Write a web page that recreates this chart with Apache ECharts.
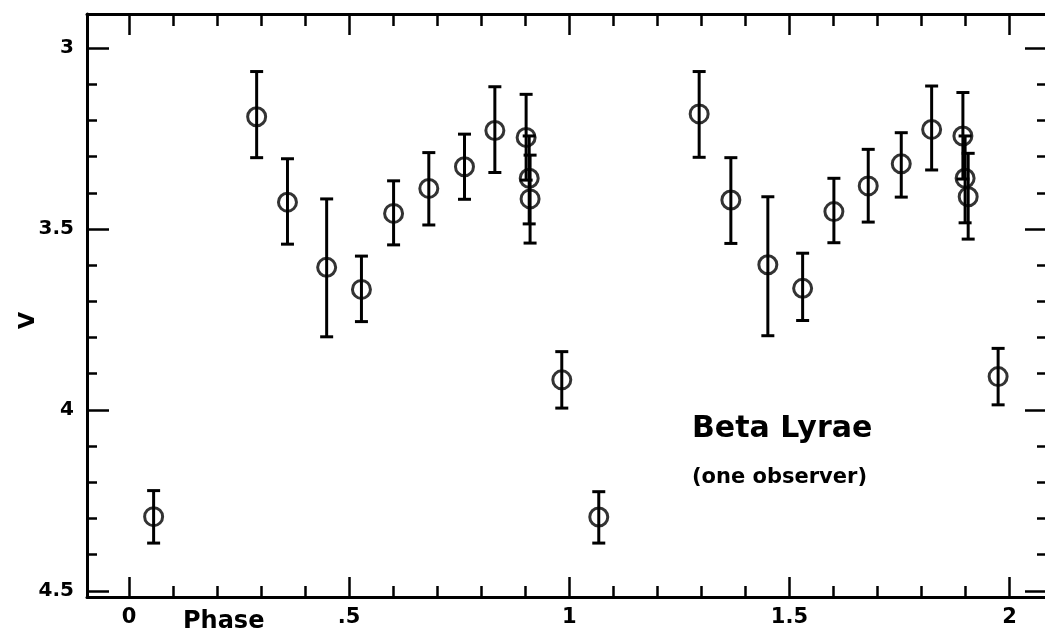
<!DOCTYPE html>
<html>
<head>
<meta charset="utf-8">
<script src="https://cdn.jsdelivr.net/npm/echarts@6/dist/echarts.min.js"></script>
<style>
  html, body { margin: 0; padding: 0; background: #fff; }
  #main { width: 1045px; height: 636px; }
</style>
</head>
<body>
<div id="main"></div>
<script>
// phase, V magnitude, lower and upper end of the error bar
const phase = [0.056, 0.290, 0.360, 0.449, 0.528, 0.601, 0.681, 0.762, 0.831, 0.902, 0.909, 0.911, 0.983,
    1.067, 1.295, 1.367, 1.451, 1.530, 1.601, 1.679, 1.754, 1.823, 1.894, 1.899, 1.906, 1.974]
const mag = [4.295, 3.190, 3.426, 3.606, 3.667, 3.457, 3.388, 3.328, 3.228, 3.247, 3.360, 3.417, 3.917,
    4.296, 3.182, 3.420, 3.599, 3.664, 3.452, 3.381, 3.320, 3.225, 3.243, 3.360, 3.411, 3.908]
const errLow = [4.223, 3.065, 3.306, 3.417, 3.575, 3.367, 3.289, 3.238, 3.107, 3.128, 3.243, 3.296, 3.839,
    4.226, 3.065, 3.303, 3.411, 3.567, 3.360, 3.280, 3.234, 3.105, 3.123, 3.243, 3.291, 3.830]
const errHigh = [4.368, 3.303, 3.542, 3.798, 3.756, 3.544, 3.489, 3.418, 3.344, 3.365, 3.486, 3.539, 3.995,
    4.368, 3.302, 3.540, 3.795, 3.753, 3.538, 3.481, 3.412, 3.337, 3.362, 3.483, 3.528, 3.986]

const xMajor = [0, 0.5, 1, 1.5, 2]
const xMajorLabels = ['0', '.5', '1', '1.5', '2']
const xMinor = [0.1, 0.2, 0.3, 0.4, 0.6, 0.7, 0.8, 0.9, 1.1, 1.2, 1.3, 1.4, 1.6, 1.7, 1.8, 1.9]
const yMajor = [3, 3.5, 4, 4.5]
const yMajorLabels = ['3', '3.5', '4', '4.5']
const yMinor = [3.1, 3.2, 3.3, 3.4, 3.6, 3.7, 3.8, 3.9, 4.1, 4.2, 4.3, 4.4]

const X_MIN = -0.0953, X_MAX = 2.085
const Y_MIN = 2.906, Y_MAX = 4.517

const chartDom = document.getElementById('main')
const myChart = echarts.init(chartDom)

const ink = '#000'
const font = 'DejaVu Sans'

function labelOf(values, labels) {
    return function (v) {
        const i = values.findIndex(m => Math.abs(m - v) < 1e-6)
        return i >= 0 ? labels[i] : ''
    }
}

function xAx(position, ticks, len, withLine, withLabel) {
    return {
        type: 'value', position, min: X_MIN, max: X_MAX,
        axisLine: { show: withLine, onZero: false, lineStyle: { color: ink, width: 3 } },
        axisTick: { show: true, inside: true, length: len, customValues: ticks, lineStyle: { color: ink, width: 2.5 } },
        axisLabel: {
            show: withLabel, customValues: ticks, margin: 10,
            formatter: labelOf(xMajor, xMajorLabels),
            color: ink, fontFamily: font, fontSize: 21, fontWeight: 'bold'
        },
        splitLine: { show: false }
    }
}

function yAx(position, ticks, len, withLine, withLabel) {
    const ax = {
        type: 'value', position, min: Y_MIN, max: Y_MAX, inverse: true,
        axisLine: { show: withLine, onZero: false, lineStyle: { color: ink, width: 3 } },
        axisTick: { show: true, inside: true, length: len, customValues: ticks, lineStyle: { color: ink, width: 2.5 } },
        axisLabel: {
            show: withLabel, customValues: ticks, margin: 13,
            formatter: labelOf(yMajor, yMajorLabels),
            color: ink, fontFamily: font, fontSize: 20, fontWeight: 'bold'
        },
        splitLine: { show: false }
    }
    if (withLabel) {
        ax.name = 'V'
        ax.nameLocation = 'middle'
        ax.nameGap = 48
        ax.nameMoveOverlap = false
        ax.nameRotate = 90
        ax.nameTextStyle = { color: ink, fontFamily: font, fontSize: 22, fontWeight: 'bold', padding: [0, 30, 0, 0] }
    }
    return ax
}

const points = phase.map((p, i) => [p, mag[i]])
const bars = phase.map((p, i) => [p, errLow[i], errHigh[i]])

const option = {
    backgroundColor: '#fff',
    animation: false,
    grid: { left: 87, top: 14, width: 960, height: 583, containLabel: false, outerBoundsMode: 'none' },
    xAxis: [
        xAx('bottom', xMajor, 20, true, true),
        xAx('bottom', xMinor, 11, false, false),
        xAx('top', xMajor, 21, true, false),
        xAx('top', xMinor, 12, false, false)
    ],
    yAxis: [
        yAx('left', yMajor, 22, true, true),
        yAx('left', yMinor, 10, false, false),
        yAx('right', yMajor, 22, true, false),
        yAx('right', yMinor, 10, false, false)
    ],
    graphic: [
        { type: 'text', left: 183, top: 610, style: { text: 'Phase', fill: ink, font: 'bold 24px "DejaVu Sans"' } },
        { type: 'text', left: 692, top: 414, style: { text: 'Beta Lyrae', fill: ink, font: 'bold 30px "DejaVu Sans"' } },
        { type: 'text', left: 692, top: 467, style: { text: '(one observer)', fill: ink, font: 'bold 21px "DejaVu Sans"' } }
    ],
    series: [
        {
            name: 'error',
            type: 'custom',
            xAxisIndex: 0,
            yAxisIndex: 0,
            data: bars,
            renderItem: function (params, api) {
                const x = api.value(0)
                const top = api.coord([x, api.value(1)])
                const bot = api.coord([x, api.value(2)])
                const cap = 6.5
                const st = { stroke: ink, lineWidth: 3 }
                return {
                    type: 'group',
                    children: [
                        { type: 'line', shape: { x1: top[0], y1: top[1], x2: bot[0], y2: bot[1] }, style: st },
                        { type: 'line', shape: { x1: top[0] - cap, y1: top[1], x2: top[0] + cap, y2: top[1] }, style: st },
                        { type: 'line', shape: { x1: bot[0] - cap, y1: bot[1], x2: bot[0] + cap, y2: bot[1] }, style: st }
                    ]
                }
            }
        },
        {
            name: 'V',
            type: 'scatter',
            xAxisIndex: 0,
            yAxisIndex: 0,
            data: points,
            symbol: 'circle',
            symbolSize: 18,
            itemStyle: { color: 'rgba(0,0,0,0)', borderColor: ink, borderWidth: 3 }
        }
    ]
}

myChart.setOption(option)
</script>
</body>
</html>
